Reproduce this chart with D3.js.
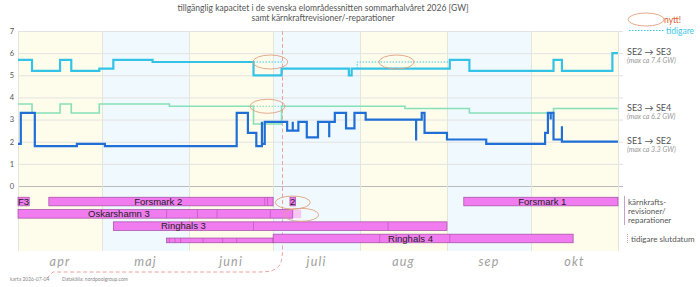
<!DOCTYPE html>
<html>
<head>
<meta charset="utf-8">
<script src="https://cdn.jsdelivr.net/npm/d3@7"></script>
<style>
body { margin: 0; background: #fff; }
svg { display: block; }
</style>
</head>
<body>
<script>
var width = 700,
    height = 287;

// Months on the x axis
var months = ["apr", "maj", "juni", "juli", "aug", "sep", "okt"];
var monthStarts = ["2026-04-01", "2026-05-01", "2026-06-01", "2026-07-01", "2026-08-01", "2026-09-01", "2026-10-01", "2026-11-01"];
var yTicks = [0, 1, 2, 3, 4, 5, 6, 7];
var today = "2026-07-04";

// Capacity per snitt [GW], step after each date
var se23 = [
    ["2026-04-01", 5.7], ["2026-04-06", 5.2], ["2026-04-16", 5.7], ["2026-04-20", 5.2],
    ["2026-04-30", 5.3], ["2026-05-05", 5.7], ["2026-05-19", 5.6], ["2026-06-24", 5.0],
    ["2026-07-04", 5.3], ["2026-07-28", 5.0], ["2026-07-29", 5.3], ["2026-09-02", 5.7],
    ["2026-09-09", 5.2], ["2026-10-09", 5.7], ["2026-10-12", 5.2], ["2026-10-30", 6.0],
    ["2026-11-01", 6.0]
];
var se34 = [
    ["2026-04-01", 3.7], ["2026-04-06", 3.3], ["2026-04-16", 3.7], ["2026-04-20", 3.3],
    ["2026-04-30", 3.7], ["2026-05-25", 3.6], ["2026-06-24", 2.8], ["2026-07-04", 3.6],
    ["2026-08-17", 3.5], ["2026-09-09", 3.3], ["2026-10-09", 3.5], ["2026-11-01", 3.5]
];
var se12 = [
    ["2026-04-01", 1.9], ["2026-04-02", 3.3], ["2026-04-07", 1.8], ["2026-04-22", 1.9],
    ["2026-05-02", 1.8], ["2026-06-18", 3.3], ["2026-06-22", 2.4], ["2026-06-25", 1.8],
    ["2026-06-27", 2.9], ["2026-06-27", 1.9], ["2026-06-28", 2.9], ["2026-07-06", 2.5],
    ["2026-07-08", 2.9], ["2026-07-08", 2.5], ["2026-07-10", 2.9], ["2026-07-13", 2.2],
    ["2026-07-17", 2.9], ["2026-07-21", 2.2], ["2026-07-21", 2.9], ["2026-07-23", 3.3],
    ["2026-07-27", 2.6], ["2026-07-30", 3.3], ["2026-08-03", 3.0], ["2026-08-21", 2.05],
    ["2026-08-21", 3.0], ["2026-08-23", 3.3], ["2026-08-24", 2.4], ["2026-09-01", 2.1],
    ["2026-09-15", 1.9], ["2026-10-06", 2.4], ["2026-10-07", 3.3], ["2026-10-08", 3.0],
    ["2026-10-08", 3.3], ["2026-10-09", 2.1], ["2026-10-12", 2.7], ["2026-10-12", 2.0],
    ["2026-11-01", 2.0]
];

// Earlier forecast ("tidigare")
var se23Prev = [
    [["2026-06-24", 5.6], ["2026-07-05", 5.6]],
    [["2026-07-31", 5.3], ["2026-07-31", 5.6], ["2026-09-02", 5.6]]
];
var se34Prev = [
    [["2026-06-24", 3.6], ["2026-07-04", 3.6]]
];

var seriesNames = ["SE2 \u2192 SE3", "SE3 \u2192 SE4", "SE1 \u2192 SE2"];
var seriesMax = ["(max ca 7.4 GW)", "(max ca 6.2 GW)", "(max ca 3.3 GW)"];
var seriesLast = [6.0, 3.5, 2.0];

// Nuclear outages: row, start, end, label, label date
var outages = [
    { name: "F3", row: 0, start: "2026-04-01", end: "2026-04-05", at: "2026-04-03" },
    { name: "Forsmark 2", row: 0, start: "2026-04-12", end: "2026-07-01", at: "2026-05-21" },
    { name: "2", row: 0, start: "2026-07-07", end: "2026-07-09", at: "2026-07-08" },
    { name: "Forsmark 1", row: 0, start: "2026-09-07", end: "2026-11-01", at: "2026-10-05" },
    { name: "Oskarshamn 3", row: 1, start: "2026-04-01", end: "2026-07-08", at: "2026-05-07" },
    { name: "Ringhals 3", row: 2, start: "2026-05-05", end: "2026-09-01", at: "2026-05-30" },
    { name: "", row: 3, start: "2026-05-24", end: "2026-07-01", thin: true },
    { name: "Ringhals 4", row: 3, start: "2026-07-01", end: "2026-10-16", at: "2026-08-19" }
];
var extensions = [
    { row: 1, start: "2026-07-08", end: "2026-07-11" }
];
var oldEnds = [
    { row: 0, date: "2026-06-28" }, { row: 0, date: "2026-06-29" },
    { row: 1, date: "2026-05-24" }, { row: 1, date: "2026-06-04" },
    { row: 1, date: "2026-06-11" }, { row: 1, date: "2026-06-30" },
    { row: 2, date: "2026-06-24" }, { row: 2, date: "2026-08-11" },
    { row: 3, date: "2026-05-25", thin: true }, { row: 3, date: "2026-05-27", thin: true },
    { row: 3, date: "2026-05-29", thin: true }, { row: 3, date: "2026-06-06", thin: true },
    { row: 3, date: "2026-06-13", thin: true }, { row: 3, date: "2026-06-18", thin: true },
    { row: 3, date: "2026-08-08" }, { row: 3, date: "2026-09-02" }
];

// "nytt!" rings: on a line (value) or on an outage row
var rings = [
    { date: "2026-06-30", value: 5.6 },
    { date: "2026-06-29", value: 3.6 },
    { date: "2026-08-14", value: 5.6 },
    { date: "2026-07-08", row: 0 },
    { date: "2026-07-11", row: 1 }
];

var parse = d3.timeParse("%Y-%m-%d");

var svg = d3.select("body").append("svg")
    .attr("width", width)
    .attr("height", height);

var x = d3.scaleTime()
    .domain([parse(monthStarts[0]), parse(monthStarts[monthStarts.length - 1])])
    .range([18, 618]);

var y = d3.scaleLinear()
    .domain([0, 7])
    .range([186, 31]);

var row = d3.scaleBand()
    .domain([0, 1, 2, 3])
    .range([196, 244])
    .paddingInner(0.3)
    .paddingOuter(0.1);

// Month shading
svg.append("g").selectAll("rect")
    .data(months)
    .enter().append("rect")
    .attr("x", function(d, i) { return x(parse(monthStarts[i])); })
    .attr("width", function(d, i) { return x(parse(monthStarts[i + 1])) - x(parse(monthStarts[i])); })
    .attr("y", y(7))
    .attr("height", 251 - y(7))
    .attr("fill", function(d, i) { return i % 2 == 0 ? "#fefdec" : "#f0fafe"; });

// Grid lines
svg.append("g").selectAll("line")
    .data(yTicks)
    .enter().append("line")
    .attr("x1", 18).attr("x2", 623)
    .attr("y1", function(d) { return y(d) + 0.5; })
    .attr("y2", function(d) { return y(d) + 0.5; })
    .attr("stroke", function(d) { return d == 0 ? "#bbb" : "#e2e2e2"; })
    .attr("stroke-width", 1);

svg.append("g").selectAll("line")
    .data(monthStarts)
    .enter().append("line")
    .attr("x1", function(d) { return Math.round(x(parse(d))) + 0.5; })
    .attr("x2", function(d) { return Math.round(x(parse(d))) + 0.5; })
    .attr("y1", y(7)).attr("y2", 251)
    .attr("stroke", "#e4e6da");

// Y axis labels
var yAxis = svg.append("g")
    .attr("transform", "translate(14,0)")
    .call(d3.axisLeft(y).tickValues(yTicks).tickFormat(d3.format("d")).tickSize(0).tickPadding(0));
yAxis.select(".domain").remove();
yAxis.selectAll("text")
    .attr("font-family", "Lato")
    .attr("font-size", 7.5)
    .attr("fill", "#555");

// Month labels
svg.append("g").selectAll("text")
    .data(months)
    .enter().append("text")
    .attr("x", function(d, i) { return (x(parse(monthStarts[i])) + x(parse(monthStarts[i + 1]))) / 2; })
    .attr("y", 266)
    .attr("text-anchor", "middle")
    .attr("font-family", "Lato")
    .attr("font-style", "italic")
    .attr("font-size", 12.5)
    .attr("letter-spacing", 1.2)
    .attr("fill", "#a0a0a0")
    .text(function(d) { return d; });

// Today line, curving down to the date stamp
var tx = Math.round(x(parse(today))) + 0.5;
svg.append("path")
    .attr("d", "M" + tx + "," + y(7) + "V250C" + tx + ",268 " + (tx - 6) + ",272 " + (tx - 24) + ",272H53L46,279")
    .attr("fill", "none")
    .attr("stroke", "#f0a0a0")
    .attr("stroke-width", 1)
    .attr("stroke-dasharray", "4,2.5");

// Lines
var line = d3.line()
    .curve(d3.curveStepAfter)
    .x(function(d) { return x(parse(d[0])); })
    .y(function(d) { return y(d[1]); });

se23Prev.forEach(function(seg) {
    svg.append("path").attr("d", line(seg))
        .attr("fill", "none").attr("stroke", "#3cc8e8")
        .attr("stroke-width", 1).attr("stroke-dasharray", "1.5,1.5");
});
se34Prev.forEach(function(seg) {
    svg.append("path").attr("d", line(seg))
        .attr("fill", "none").attr("stroke", "#7fdcb4")
        .attr("stroke-width", 1).attr("stroke-dasharray", "1.5,1.5");
});

svg.append("path").attr("d", line(se34))
    .attr("fill", "none").attr("stroke", "#86e0b8").attr("stroke-width", 1.6);
svg.append("path").attr("d", line(se23))
    .attr("fill", "none").attr("stroke", "#34c2e6").attr("stroke-width", 2.2);
svg.append("path").attr("d", line(se12))
    .attr("fill", "none").attr("stroke", "#1f6fd6").attr("stroke-width", 2.2);

// Series labels on the right
seriesNames.forEach(function(name, i) {
    var ly = y(seriesLast[i]);
    svg.append("text")
        .attr("x", 627).attr("y", ly + 2)
        .attr("font-family", "Lato").attr("font-size", 9)
        .attr("fill", "#555")
        .text(name);
    svg.append("text")
        .attr("x", 627).attr("y", ly + 10)
        .attr("font-family", "Lato").attr("font-style", "italic").attr("font-size", 7)
        .attr("fill", "#999")
        .text(seriesMax[i]);
});

// Outage bars
svg.append("g").selectAll("rect")
    .data(extensions)
    .enter().append("rect")
    .attr("x", function(d) { return x(parse(d.start)); })
    .attr("width", function(d) { return x(parse(d.end)) - x(parse(d.start)); })
    .attr("y", function(d) { return row(d.row); })
    .attr("height", row.bandwidth())
    .attr("fill", "#f8c6f4");

svg.append("g").selectAll("rect")
    .data(outages)
    .enter().append("rect")
    .attr("x", function(d) { return x(parse(d.start)); })
    .attr("width", function(d) { return x(parse(d.end)) - x(parse(d.start)); })
    .attr("y", function(d) { return d.thin ? row(d.row) + row.bandwidth() * 0.45 : row(d.row); })
    .attr("height", function(d) { return d.thin ? row.bandwidth() * 0.55 : row.bandwidth(); })
    .attr("fill", "#f07cf0")
    .attr("stroke", "#a04aa0")
    .attr("stroke-width", 0.7);

svg.append("g").selectAll("line")
    .data(oldEnds)
    .enter().append("line")
    .attr("x1", function(d) { return x(parse(d.date)); })
    .attr("x2", function(d) { return x(parse(d.date)); })
    .attr("y1", function(d) { return d.thin ? row(d.row) + row.bandwidth() * 0.45 : row(d.row); })
    .attr("y2", function(d) { return row(d.row) + row.bandwidth(); })
    .attr("stroke", "#b050b0")
    .attr("stroke-width", 0.6);

svg.append("g").selectAll("text")
    .data(outages.filter(function(d) { return d.name; }))
    .enter().append("text")
    .attr("x", function(d) { return x(parse(d.at)); })
    .attr("y", function(d) { return row(d.row) + row.bandwidth() / 2 + 3.3; })
    .attr("text-anchor", "middle")
    .attr("font-family", "Liberation Sans")
    .attr("font-size", 9.5)
    .attr("fill", "#222")
    .text(function(d) { return d.name; });

// Rings marking new information
svg.append("g").selectAll("ellipse")
    .data(rings)
    .enter().append("ellipse")
    .attr("cx", function(d) { return x(parse(d.date)); })
    .attr("cy", function(d) { return d.row == null ? y(d.value) : row(d.row) + row.bandwidth() / 2 + 1; })
    .attr("rx", 17.5)
    .attr("ry", function(d) { return d.row == null ? 7 : 6.5; })
    .attr("fill", "none")
    .attr("stroke", "#e0a080")
    .attr("stroke-width", 0.9);

// Legend top right
svg.append("ellipse")
    .attr("cx", 646).attr("cy", 19.5).attr("rx", 18).attr("ry", 6.5)
    .attr("fill", "none").attr("stroke", "#e0a080").attr("stroke-width", 0.9);
svg.append("text")
    .attr("x", 664).attr("y", 22.5)
    .attr("font-family", "Lato").attr("font-size", 8.5)
    .attr("fill", "#e0582a")
    .text("nytt!");
svg.append("line")
    .attr("x1", 629).attr("x2", 665).attr("y1", 30.5).attr("y2", 30.5)
    .attr("stroke", "#3cc8e8").attr("stroke-dasharray", "1.5,1.5");
svg.append("text")
    .attr("x", 666).attr("y", 33.5)
    .attr("font-family", "Lato").attr("font-size", 8.5)
    .attr("fill", "#3cc8e8")
    .text("tidigare");

// Legend for the outage bars
svg.append("line")
    .attr("x1", 624.5).attr("x2", 624.5).attr("y1", 196).attr("y2", 225)
    .attr("stroke", "#c9a0c9");
["kärnkrafts-", "revisioner/", "reparationer"].forEach(function(t, i) {
    svg.append("text")
        .attr("x", 628).attr("y", 205 + i * 9)
        .attr("font-family", "Lato").attr("font-size", 8)
        .attr("fill", "#555")
        .text(t);
});
svg.append("line")
    .attr("x1", 627.5).attr("x2", 627.5).attr("y1", 234).attr("y2", 243)
    .attr("stroke", "#a060a0").attr("stroke-width", 0.6).attr("stroke-dasharray", "1,1");
svg.append("text")
    .attr("x", 631).attr("y", 241.5)
    .attr("font-family", "Lato").attr("font-size", 8)
    .attr("fill", "#555")
    .text("tidigare slutdatum");

// Title
svg.append("text")
    .attr("x", 323).attr("y", 10.5)
    .attr("text-anchor", "middle")
    .attr("font-family", "Lato").attr("font-size", 8.5)
    .attr("fill", "#555")
    .text("tillgänglig kapacitet i de svenska elområdessnitten sommarhalvåret 2026 [GW]");
svg.append("text")
    .attr("x", 323).attr("y", 20.5)
    .attr("text-anchor", "middle")
    .attr("font-family", "Lato").attr("font-size", 8.5)
    .attr("fill", "#555")
    .text("samt kärnkraftrevisioner/-reparationer");

// Footer
svg.append("text")
    .attr("x", 10).attr("y", 280.5)
    .attr("font-family", "Lato").attr("font-size", 5)
    .attr("fill", "#888")
    .text("karta 2026-07-04");
svg.append("text")
    .attr("x", 62).attr("y", 280.5)
    .attr("font-family", "Lato").attr("font-size", 5)
    .attr("fill", "#888")
    .text("Datakälla: nordpoolgroup.com");
</script>
</body>
</html>
